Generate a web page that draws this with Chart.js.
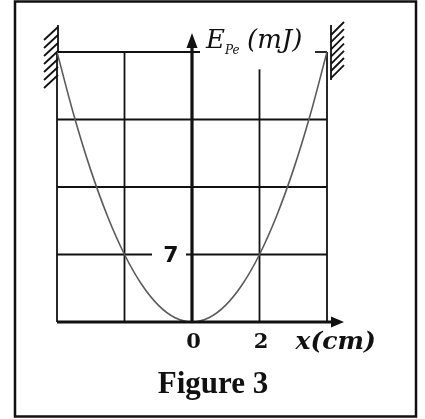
<!DOCTYPE html>
<html>
<head>
<meta charset="utf-8">
<script src="https://cdn.jsdelivr.net/npm/chart.js@4/dist/chart.umd.min.js"></script>
<style>
    html, body { margin: 0; padding: 0; background: #fff; }
    #wrap { width: 425px; height: 419px; }
</style>
</head>
<body>
<div id="wrap"><canvas id="energyChart" width="425" height="419"></canvas></div>
<script>
// elongation x (cm) and elastic potential energy Epe (mJ)
const positions = [-4, -3.5, -3, -2.5, -2, -1.5, -1, -0.5, 0, 0.5, 1, 1.5, 2, 2.5, 3, 3.5, 4];
const energies  = [28, 21.44, 15.75, 10.94, 7, 3.94, 1.75, 0.44, 0, 0.44, 1.75, 3.94, 7, 10.94, 15.75, 21.44, 28];

const gridX = [-4, -2, 2, 4];
const gridY = [7, 14, 21, 28];
const xTickLabels = [0, 2];
const yTickLabels = [7];
const X_MIN = -4, X_MAX = 4, Y_MAX = 28;

const INK = '#111';
const SERIF = '"Liberation Serif", serif';
const MATH = '"DejaVu Serif", serif';

function line(ctx, x1, y1, x2, y2) {
    ctx.beginPath();
    ctx.moveTo(x1, y1);
    ctx.lineTo(x2, y2);
    ctx.stroke();
}

const figurePlugin = {
    id: 'figure',
    beforeDatasetsDraw(chart) {
        const { ctx, scales: { x, y } } = chart;
        const px = v => x.getPixelForValue(v);
        const py = v => y.getPixelForValue(v);
        ctx.save();
        ctx.lineCap = 'butt';

        // outer frame
        ctx.strokeStyle = INK;
        ctx.lineWidth = 2.5;
        ctx.strokeRect(15, 1.5, 401, 415);

        // vertical grid lines (the one at x = 2 stops below the axis title)
        ctx.lineWidth = 1.8;
        gridX.forEach(v => {
            const top = v === 2 ? 26.2 : Y_MAX;
            line(ctx, px(v), py(top), px(v), py(0));
        });

        // horizontal grid lines, broken around the labels
        gridY.forEach(v => {
            if (v === Y_MAX) {
                line(ctx, px(X_MIN), py(v), px(0) + 8, py(v));
                line(ctx, px(X_MAX) - 12, py(v), px(X_MAX), py(v));
            } else if (yTickLabels.includes(v)) {
                line(ctx, px(X_MIN), py(v), px(0) - 40, py(v));
                line(ctx, px(0) - 6, py(v), px(X_MAX), py(v));
            } else {
                line(ctx, px(X_MIN), py(v), px(X_MAX), py(v));
            }
        });

        // fixed walls with hatching at both ends of the spring
        const lx = px(X_MIN) + 1;
        line(ctx, lx, py(Y_MAX) - 27, lx, py(Y_MAX));
        for (let i = 0; i < 7; i++) {
            const y0 = py(Y_MAX) - 25 + i * 8;
            line(ctx, lx, y0, lx - 14, y0 + 13);
        }
        const rx = px(X_MAX) + 4;
        line(ctx, rx, py(Y_MAX) - 27, rx, py(Y_MAX) + 28);
        for (let i = 0; i < 7; i++) {
            const y0 = py(Y_MAX) - 17 + i * 7.2;
            line(ctx, rx, y0, rx + 13, y0 - 13);
        }
        ctx.restore();
    },
    afterDatasetsDraw(chart) {
        const { ctx, scales: { x, y } } = chart;
        const px = v => x.getPixelForValue(v);
        const py = v => y.getPixelForValue(v);
        ctx.save();
        ctx.strokeStyle = INK;
        ctx.fillStyle = INK;

        // y axis with arrow
        const ax = px(0), ay = py(0);
        ctx.lineWidth = 3.2;
        line(ctx, ax, ay, ax, py(Y_MAX) - 6);
        ctx.beginPath();
        ctx.moveTo(ax, py(Y_MAX) - 19);
        ctx.lineTo(ax - 5.5, py(Y_MAX) - 4);
        ctx.lineTo(ax + 5.5, py(Y_MAX) - 4);
        ctx.closePath();
        ctx.fill();

        // x axis with arrow
        line(ctx, px(X_MIN), ay, px(X_MAX) + 8, ay);
        ctx.beginPath();
        ctx.moveTo(px(X_MAX) + 17, ay);
        ctx.lineTo(px(X_MAX) + 4, ay - 5.5);
        ctx.lineTo(px(X_MAX) + 4, ay + 5.5);
        ctx.closePath();
        ctx.fill();

        // tick labels
        ctx.textAlign = 'center';
        ctx.textBaseline = 'alphabetic';
        ctx.font = `bold 21px ${MATH}`;
        xTickLabels.forEach(v => ctx.fillText(String(v), px(v) + 1.5, ay + 26));

        ctx.font = 'bold 22px "DejaVu Sans", sans-serif';
        ctx.textBaseline = 'middle';
        yTickLabels.forEach(v => ctx.fillText(String(v), ax - 21, py(v) + 2));

        // axis titles
        ctx.textAlign = 'left';
        ctx.textBaseline = 'alphabetic';
        ctx.font = `bold italic 25px ${MATH}`;
        ctx.fillText('x(cm)', px(2) + 36, ay + 27);

        ctx.font = `italic 26px ${MATH}`;
        ctx.fillText('E', ax + 14, py(Y_MAX) - 4);
        ctx.font = `italic 12px ${MATH}`;
        ctx.fillText('Pe', ax + 33, py(Y_MAX) + 2);
        ctx.font = `italic 26px ${MATH}`;
        ctx.fillText('(mJ)', ax + 55, py(Y_MAX) - 4);

        // caption
        ctx.textAlign = 'center';
        ctx.font = `bold 31px ${SERIF}`;
        ctx.fillText('Figure 3', 213, 393);
        ctx.restore();
    }
};

new Chart(document.getElementById('energyChart'), {
    type: 'line',
    data: {
        datasets: [{
            data: positions.map((p, i) => ({ x: p, y: energies[i] })),
            borderColor: '#5a5a5a',
            borderWidth: 1.6,
            pointRadius: 0,
            cubicInterpolationMode: 'monotone',
            fill: false
        }]
    },
    options: {
        responsive: false,
        animation: false,
        layout: { padding: { left: 57, right: 98, top: 52, bottom: 97 } },
        scales: {
            x: { type: 'linear', min: X_MIN, max: X_MAX, display: false },
            y: { type: 'linear', min: 0, max: Y_MAX, display: false }
        },
        plugins: { legend: { display: false }, tooltip: { enabled: false } }
    },
    plugins: [figurePlugin]
});
</script>
</body>
</html>
